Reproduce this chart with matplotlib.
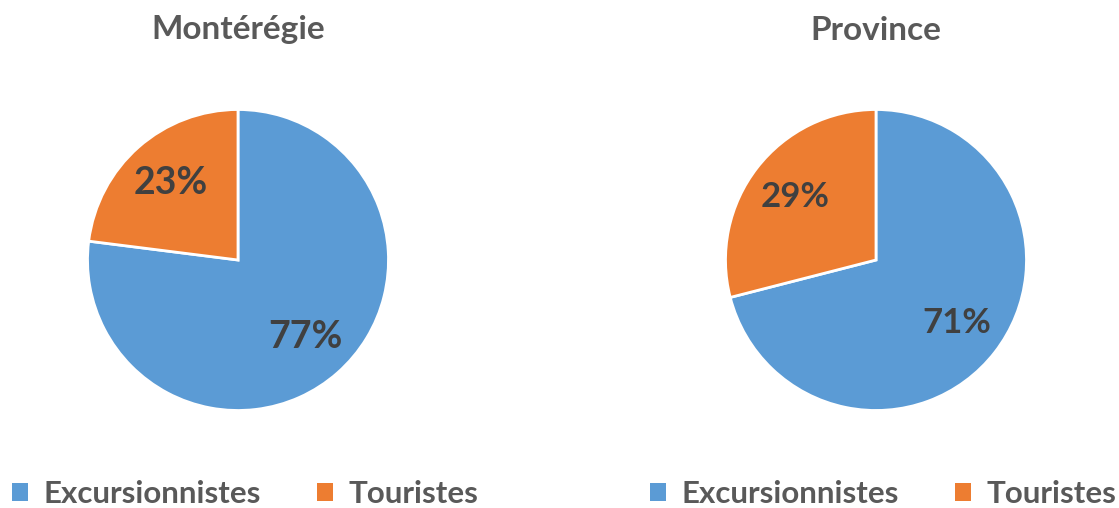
import matplotlib
matplotlib.use("Agg")
import matplotlib.pyplot as plt
from matplotlib.patches import Patch

plt.rcParams["font.family"] = ["Lato", "DejaVu Sans"]

categories = ["Excursionnistes", "Touristes"]
regions = ["Montérégie", "Province"]
monteregie = [77, 23]
province = [71, 29]
colors = ["#5B9BD5", "#ED7D31"]

W, H = 1119, 508
fig = plt.figure(figsize=(W / 100, H / 100), dpi=100)

R = 152
centers = [(238, 260), (876, 260)]
label_sizes = [27, 25]
series = [monteregie, province]

for (cx, cy), vals, name, fs in zip(centers, series, regions, label_sizes):
    ax = fig.add_axes([(cx - R) / W, (H - cy - R) / H, 2 * R / W, 2 * R / H])
    wedges, texts, autotexts = ax.pie(
        vals, colors=colors, startangle=90, counterclock=False,
        autopct="%d%%", pctdistance=0.68,
        wedgeprops=dict(edgecolor="white", linewidth=2),
        textprops=dict(color="#404040", fontsize=fs, fontweight="bold"))
    ax.set_xlim(-1.01, 1.01)
    ax.set_ylim(-1.01, 1.01)
    fig.text(cx / W, 1 - 30 / H, name, ha="center", va="center",
             fontsize=24, fontweight="bold", color="#595959")
    handles = [Patch(facecolor=c, edgecolor="none") for c in colors]
    fig.legend(handles, categories, loc="center", ncol=2, frameon=False,
               bbox_to_anchor=((cx + 7) / W, 1 - 494 / H),
               handlelength=0.5, handleheight=0.5, handletextpad=0.5,
               columnspacing=1.8,
               prop=dict(size=22.5, weight="bold"), labelcolor="#595959")

fig.savefig("out.png", dpi=100)
